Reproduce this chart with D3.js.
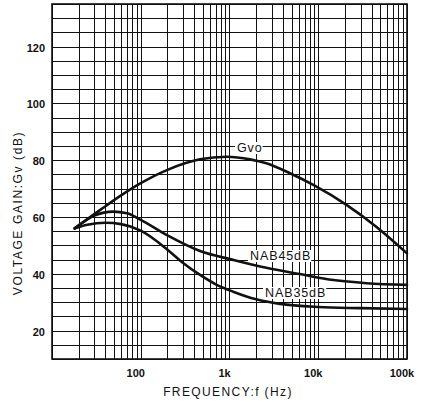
<!DOCTYPE html>
<html><head><meta charset="utf-8">
<script src="https://cdn.jsdelivr.net/npm/d3@7"></script>
<style>body{margin:0;background:#fff}svg{display:block}</style>
</head><body><svg id="c" width="421" height="406"></svg>
<script>
const yTicks = [20, 40, 60, 80, 100, 120];
const xTicks = [100, 1000, 10000, 100000];
const xTickLabels = ["100", "1k", "10k", "100k"];
const gvo = [[18,56],[35,62.5],[60,67.6],[100,71.9],[200,76.6],[466,80.3],[930,81.2],[1700,80.3],[2600,78.9],[4800,75.4],[8800,71.3],[21000,64.2],[45000,56.6],[100000,47.2]];
const nab45 = [[18,56],[30,60.5],[49,61.9],[70,61.3],[100,59],[200,53.5],[466,48],[1100,44.9],[2600,42.1],[6200,39.9],[14800,37.8],[35000,36.7],[100000,36.1]];
const nab35 = [[18,56],[25,57.3],[40,58],[60,57.5],[100,55.2],[200,48.5],[300,43.8],[466,39.6],[700,36.3],[1100,33.7],[2000,31],[3700,29.4],[10000,28.3],[30000,27.9],[100000,27.6]];
const seriesLabels = [["Gvo",237,152],["NAB45dB",250,260],["NAB35dB",265,297]];

const svg = d3.select("#c");
const x = d3.scaleLog().domain([10, 100000]).range([52, 407]);
const y = d3.scaleLinear().domain([10, 135]).range([359, 4]);
const ink = "#111";
const font = "Liberation Sans, Arial, sans-serif";

// grid
const g = svg.append("g").attr("stroke", ink).attr("stroke-width", 1).attr("shape-rendering","crispEdges");
for (let v = 10; v <= 135; v += 5) {
  g.append("line").attr("x1", x(10)).attr("x2", x(100000)).attr("y1", Math.round(y(v))+0.5).attr("y2", Math.round(y(v))+0.5);
}
const vlines = [];
for (let d = 10; d < 100000; d *= 10) for (let m = 1; m <= 9; m++) vlines.push(d*m);
vlines.push(100000);
vlines.forEach(f => {
  g.append("line").attr("x1", Math.round(x(f))+0.5).attr("x2", Math.round(x(f))+0.5).attr("y1", y(135)).attr("y2", y(10))
   .attr("stroke-width", (Math.log10(f) % 1 === 0) ? 1.3 : 1);
});
svg.append("rect").attr("x", x(10)).attr("y", y(135)).attr("width", x(100000)-x(10)).attr("height", y(10)-y(135))
  .attr("fill","none").attr("stroke", ink).attr("stroke-width", 1.6);

// series labels with white backing (drawn before curves so curves stay on top)
seriesLabels.forEach(([t, lx, ly]) => {
  const txt = svg.append("text").attr("x", lx).attr("y", ly).text(t)
    .attr("font-family", font).attr("font-size", 12.5).attr("letter-spacing", 0.9).attr("fill", ink);
  const b = txt.node().getBBox();
  svg.insert("rect", () => txt.node()).attr("x", b.x - 2).attr("y", b.y + 1).attr("width", b.width + 2).attr("height", ly + 2 - (b.y + 1))
    .attr("fill", "#fff");
});

// curves
const line = d3.line().x(d => x(d[0])).y(d => y(d[1])).curve(d3.curveMonotoneX);
[gvo, nab45, nab35].forEach(s => {
  svg.append("path").attr("d", line(s)).attr("fill","none").attr("stroke", ink).attr("stroke-width", 2.6).attr("stroke-linecap","round");
});

// tick labels
yTicks.forEach(v => {
  svg.append("text").attr("x", 45).attr("y", y(v) + 5).attr("text-anchor","end").text(v)
    .attr("font-family", font).attr("font-size", 11).attr("font-weight","bold").attr("fill", ink);
});
xTicks.forEach((v, i) => {
  svg.append("text").attr("x", x(v) - 5).attr("y", 377).attr("text-anchor","middle").text(xTickLabels[i])
    .attr("font-family", font).attr("font-size", 11).attr("font-weight","bold").attr("fill", ink);
});

// axis titles
svg.append("text").attr("x", 228).attr("y", 396).attr("text-anchor","middle").text("FREQUENCY:f (Hz)")
  .attr("font-family", font).attr("font-size", 12).attr("letter-spacing", 1.4).attr("fill", ink);
svg.append("text").attr("transform","translate(22,213) rotate(-90)").attr("text-anchor","middle").text("VOLTAGE GAIN:Gv (dB)")
  .attr("font-family", font).attr("font-size", 12).attr("letter-spacing", 1.6).attr("fill", ink);
</script></body></html>
